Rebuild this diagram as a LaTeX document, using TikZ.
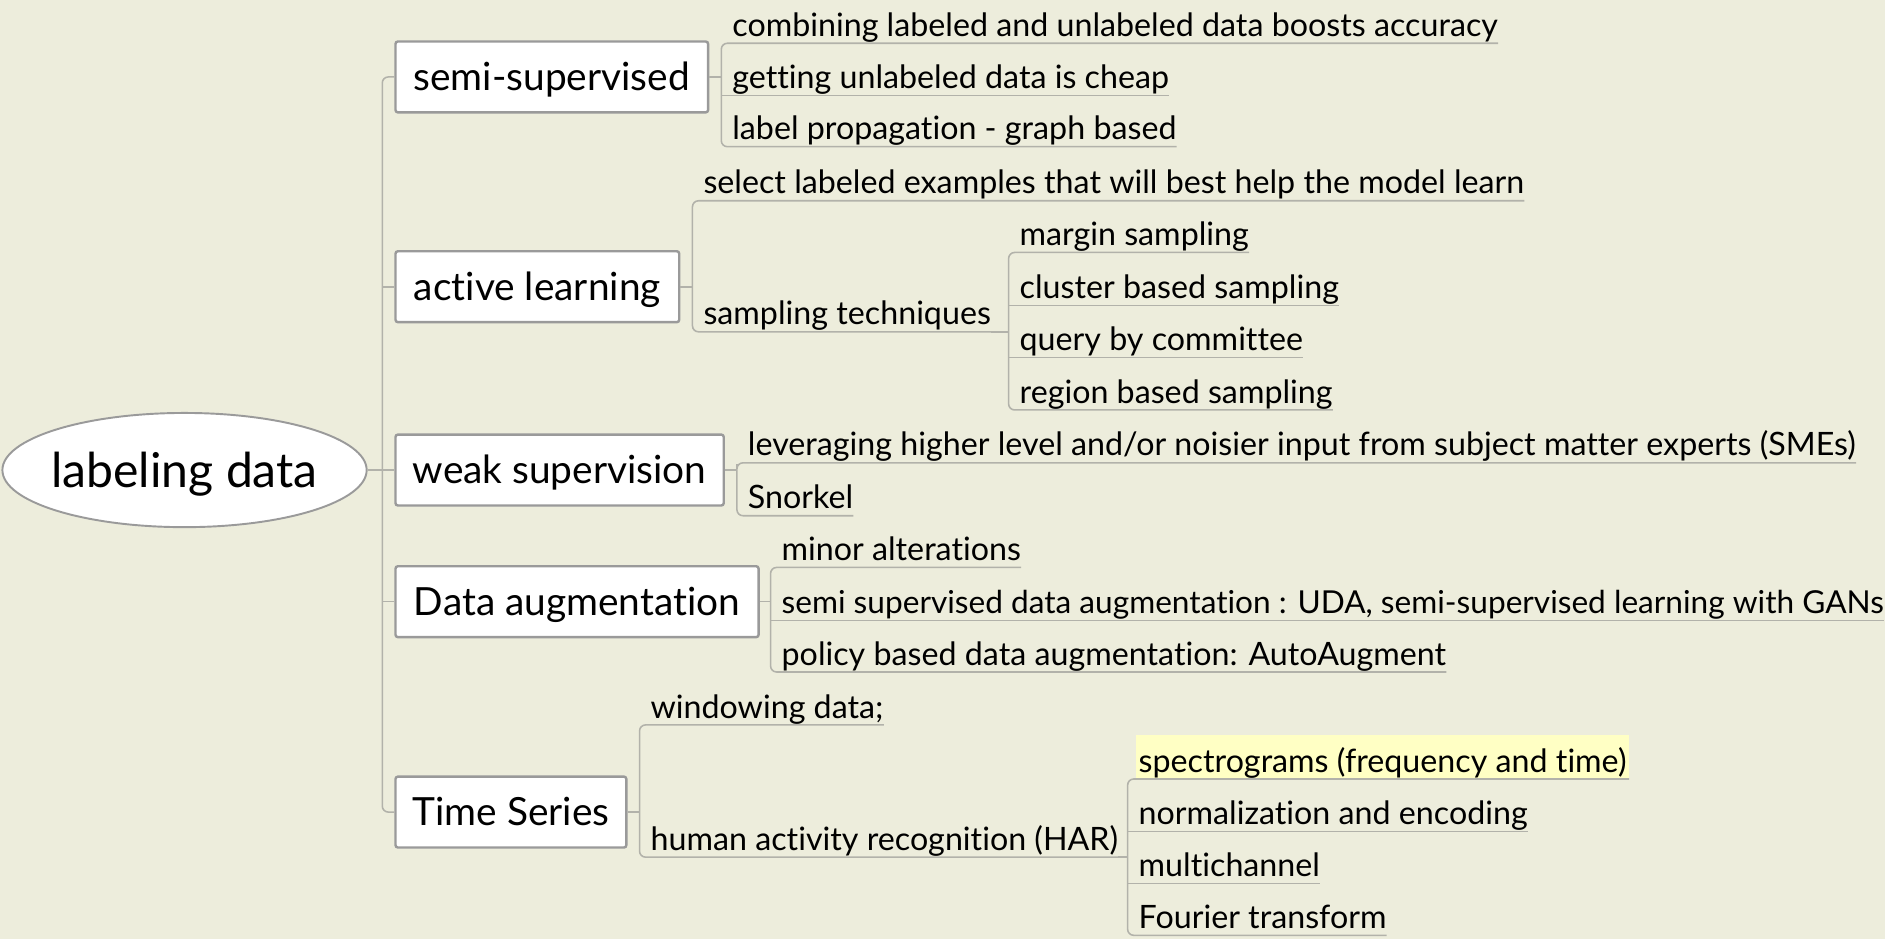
\documentclass[tikz,border=0pt]{standalone}
\usepackage{fontspec}
\setmainfont{Lato}[Ligatures=NoCommon]
\usetikzlibrary{shapes.geometric,calc}
\definecolor{bg}{HTML}{EDEDDC}
\definecolor{boxline}{HTML}{9A9A9A}
\definecolor{linkline}{HTML}{B2B2AA}
\definecolor{hl}{HTML}{FFFFC4}

\begin{document}
\begin{tikzpicture}[x=1pt,y=-1pt,
  root/.style={ellipse, draw=boxline, line width=1.6pt, fill=white,
    minimum width=303pt, minimum height=95pt, inner xsep=-5pt, inner ysep=0pt,
    text height=34pt, text depth=5pt,
    font=\fontsize{40}{44}\selectfont},
  topic/.style={draw=boxline, line width=2pt, rounded corners=2pt, fill=white,
    minimum height=59pt, anchor=west, inner sep=0pt,
    text height=28pt, text depth=5pt,
    font=\fontsize{32.3}{36}\selectfont},
  leaf/.style={anchor=south west, inner sep=0pt, text depth=5.5pt,
    font=\fontsize{26.8}{30}\selectfont},
  link/.style={draw=linkline, line width=1.3pt, rounded corners=5pt},
]
\fill[bg] (0,0) rectangle (1568,781);
\useasboundingbox (0,0) rectangle (1568,781);

% central topic and main branches
\node[root] (root) at (153.5,391) {labeling data};
\node[topic, minimum width=260pt] (ss) at (328,64) {semi-supervised};
\node[topic, minimum width=236pt] (al) at (328,238.5) {active learning};
\node[topic, minimum width=273pt] (ws) at (328,391) {weak supervision};
\node[topic, minimum width=302pt] (da) at (328,500.5) {Data augmentation};
\node[topic, minimum width=192pt] (ts) at (328,675.5) {Time Series};

\coordinate (trunk) at (318,391);
\draw[link] (ss.west) -| (trunk) |- (ts.west);
\draw[link] (root.east) -- (ws.west);
\draw[link] (trunk |- al.west) -- (al.west);
\draw[link] (trunk |- da.west) -- (da.west);

% semi-supervised
\node[leaf] (ss1) at (609,36) {combining labeled and unlabeled data boosts accuracy};
\node[leaf] (ss2) at (609,79.5) {getting unlabeled data is cheap};
\node[leaf] (ss3) at (609,122) {label propagation - graph based};
\coordinate (ssj) at (600,64);
\draw[link] (ss.east) -- (ssj);
\draw[link] (ss1.south east) -| (ssj) |- (ss3.south east);
\draw[link] (ssj |- ss2.south) -- (ss2.south east);

% active learning
\node[leaf] (al1) at (585,167) {select labeled examples that will best help the model learn};
\node[leaf] (al2) at (585,276) {sampling techniques};
\coordinate (alj) at (576,238.5);
\draw[link] (al.east) -- (alj);
\draw[link] (al1.south east) -| (alj) |- (al2.south east);

\node[leaf] (st1) at (848,210) {margin sampling};
\node[leaf] (st2) at (848,254) {cluster based sampling};
\node[leaf] (st3) at (848,297.5) {query by committee};
\node[leaf] (st4) at (848,341) {region based sampling};
\coordinate (stj) at (839,276);
\draw[link] (al2.south east) -- (stj);
\draw[link] (st1.south east) -| (stj) |- (st4.south east);
\draw[link] (stj |- st2.south) -- (st2.south east);
\draw[link] (stj |- st3.south) -- (st3.south east);

% weak supervision
\node[leaf] (ws1) at (622,385) {leveraging higher level and/or noisier input from subject matter experts (SMEs)};
\node[leaf] (ws2) at (622,429) {Snorkel};
\coordinate (wsj) at (613,391);
\draw[link] (ws.east) -- (wsj);
\draw[link] (ws1.south east) -| (wsj) |- (ws2.south east);

% data augmentation
\node[leaf] (da1) at (650,472) {minor alterations};
\node[leaf, font=\fontsize{26.3}{30}\selectfont] (da2) at (650,516) {semi supervised data augmentation : UDA, semi-supervised learning with GANs};
\node[leaf] (da3) at (650,559) {policy based data augmentation: AutoAugment};
\coordinate (daj) at (641,500.5);
\draw[link] (da.east) -- (daj);
\draw[link] (da1.south east) -| (daj) |- (da3.south east);
\draw[link] (daj |- da2.south) -- (da2.south east);

% time series
\node[leaf] (ts1) at (541,603) {windowing data;};
\node[leaf] (ts2) at (541,713) {human activity recognition (HAR)};
\coordinate (tsj) at (532,675.5);
\draw[link] (ts.east) -- (tsj);
\draw[link] (ts1.south east) -| (tsj) |- (ts2.south east);

\node[leaf, fill=hl, inner xsep=2pt, text height=30.5pt] (hr1) at (945,648) {spectrograms (frequency and time)};
\node[leaf] (hr2) at (947,691.5) {normalization and encoding};
\node[leaf] (hr3) at (947,735) {multichannel};
\node[leaf] (hr4) at (947,778) {Fourier transform};
\coordinate (harj) at (938,713);
\draw[link] (ts2.south east) -- (harj);
\draw[link] (hr1.south east) -| (harj) |- (hr4.south east);
\draw[link] (harj |- hr2.south) -- (hr2.south east);
\draw[link] (harj |- hr3.south) -- (hr3.south east);
\end{tikzpicture}
\end{document}
